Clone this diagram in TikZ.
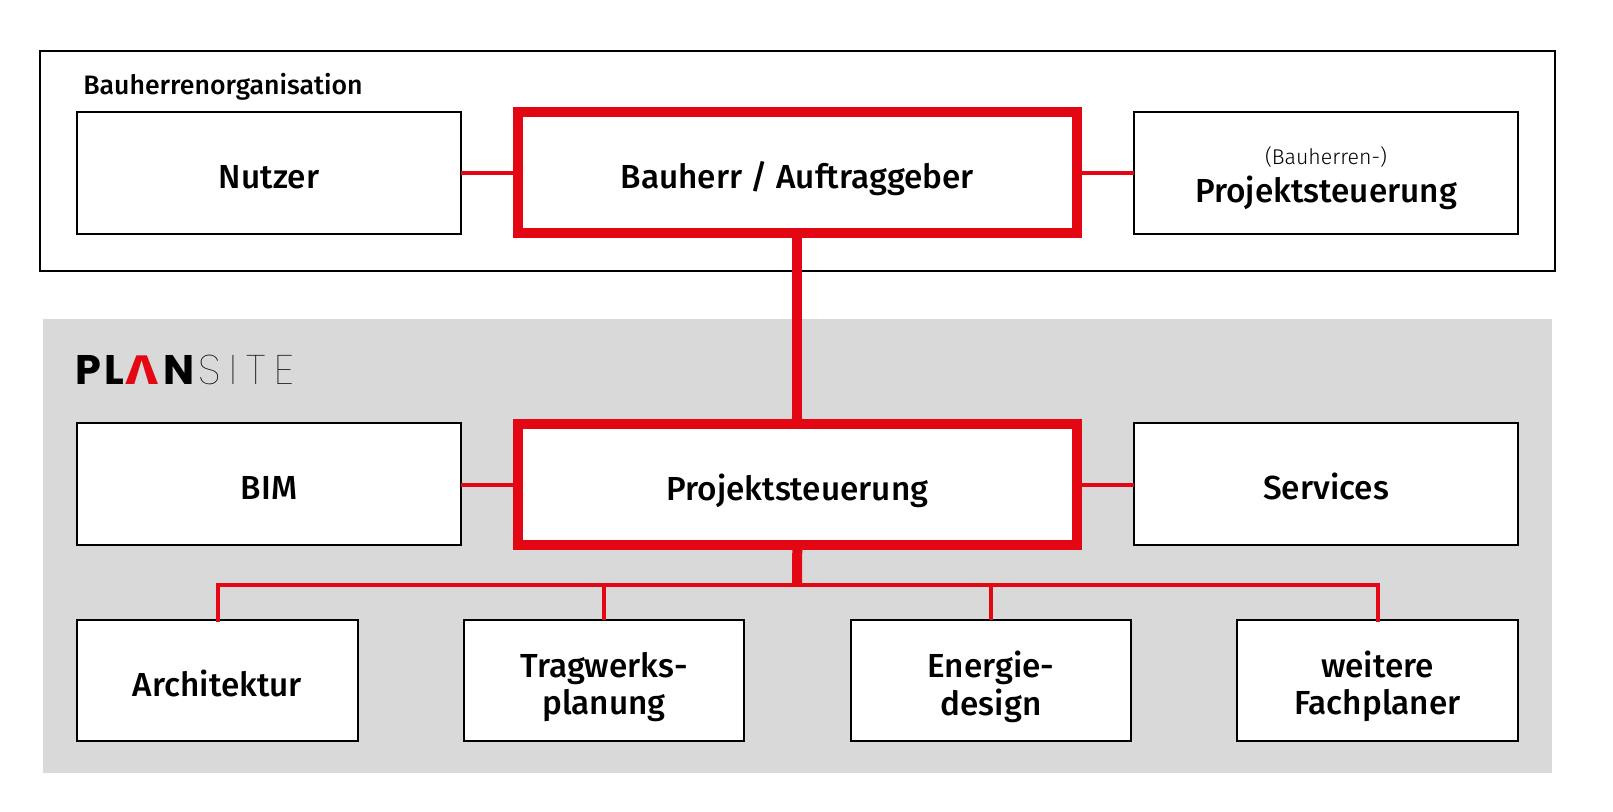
\documentclass[tikz,border=0pt]{standalone}
\usepackage{fontspec}
\usepackage{graphicx}
\setmainfont{Fira Sans Medium}
\newfontfamily\lightfont{Fira Sans Light}
\newfontfamily\logoheavy[LetterSpace=9]{Poppins Bold}
\newfontfamily\logogreek{Fira Sans}
\newfontfamily\logothin[LetterSpace=22]{Poppins Thin}
\definecolor{pred}{HTML}{E30613}
\definecolor{pgrey}{HTML}{D9D9D9}
\newcommand{\dn}[2][-6pt]{\raisebox{#1}[\height][\depth]{\begin{tabular}{@{}c@{}}#2\end{tabular}}}
\tikzset{
  px/.style={x=0.75pt,y=-0.75pt},
  box/.style={draw=black,line width=1.5pt,fill=white,outer sep=0pt,inner sep=0pt,align=center,font=\fontsize{25}{27.8}\selectfont},
  redbox/.style={box,draw=pred,line width=7.5pt},
  thin link/.style={draw=pred,line width=3pt},
  thick link/.style={draw=pred,line width=7.5pt},
}
\begin{document}
\begin{tikzpicture}[px]
\useasboundingbox (0,0) rectangle (1613,811);
\node[fill=pgrey,minimum width=1509*0.75pt,minimum height=454*0.75pt,inner sep=0pt,outer sep=0pt] (plansite) at (797,546) {};
\node[draw=black,line width=1.5pt,minimum width=1514.5*0.75pt,minimum height=220*0.75pt,inner sep=0pt,outer sep=0pt] (bauorg) at (797.3,160.5) {};
\node[anchor=base west,inner sep=0pt,font=\fontsize{20}{24}\selectfont] (orglabel) at (83,94) {Bauherrenorganisation};
\node[anchor=base west,inner sep=0pt,font=\fontsize{31}{31}\selectfont] (logo) at (75,384) {{\logoheavy PL}\hspace{1.5pt}\textcolor{pred}{\scalebox{1.28}[1]{\logogreek\bfseries Λ}}\hspace{4pt}{\logoheavy N}\hspace{3pt}{\logothin SITE}};
\coordinate (bus) at (797,585.3);
% boxes
\node[box,minimum width=384*0.75pt,minimum height=122*0.75pt] (nutzer) at (269,172.7) {\dn{Nutzer}};
\node[redbox,minimum width=559*0.75pt,minimum height=121.5*0.75pt] (bauherr) at (797.3,172.7) {\dn{Bauherr / Auftraggeber}};
\node[box,minimum width=384*0.75pt,minimum height=122*0.75pt] (pst1) at (1326,172.7) {\dn[-2.6pt]{{\lightfont\fontsize{16}{18}\selectfont (Bauherren-)}\\[0pt]Projektsteuerung}};
\node[box,minimum width=384*0.75pt,minimum height=122*0.75pt] (bim) at (269,483.7) {\dn{BIM}};
\node[redbox,minimum width=559*0.75pt,minimum height=121.5*0.75pt] (pst2) at (797.3,484.5) {\dn{Projektsteuerung}};
\node[box,minimum width=384*0.75pt,minimum height=122*0.75pt] (services) at (1326,483.7) {\dn{Services}};
\node[box,minimum width=280.5*0.75pt,minimum height=121.5*0.75pt] (arch) at (217.5,680.5) {\dn{Architektur}};
\node[box,minimum width=280.5*0.75pt,minimum height=121.5*0.75pt] (trag) at (604,680.5) {\dn{Tragwerks-\\planung}};
\node[box,minimum width=280.5*0.75pt,minimum height=121.5*0.75pt] (energ) at (991,680.5) {\dn{Energie-\\design}};
\node[box,minimum width=280.5*0.75pt,minimum height=121.5*0.75pt] (weit) at (1377.5,680.5) {\dn{weitere\\Fachplaner}};
% connectors
\draw[thin link] (nutzer.east) -- (bauherr.west);
\draw[thin link] (bauherr.east) -- (pst1.west);
\draw[thin link] (bim.east |- pst2.west) -- (pst2.west);
\draw[thin link] (pst2.east) -- (services.west |- pst2.east);
\draw[thick link] (bauherr.south) -- (pst2.north);
\draw[thick link] (pst2.south) -- (bus);
\draw[thin link,line cap=rect] (arch.north) -- (arch.north |- bus) -- (weit.north |- bus) -- (weit.north);
\draw[thin link] (trag.north) -- (trag.north |- bus);
\draw[thin link] (energ.north) -- (energ.north |- bus);
\end{tikzpicture}
\end{document}
